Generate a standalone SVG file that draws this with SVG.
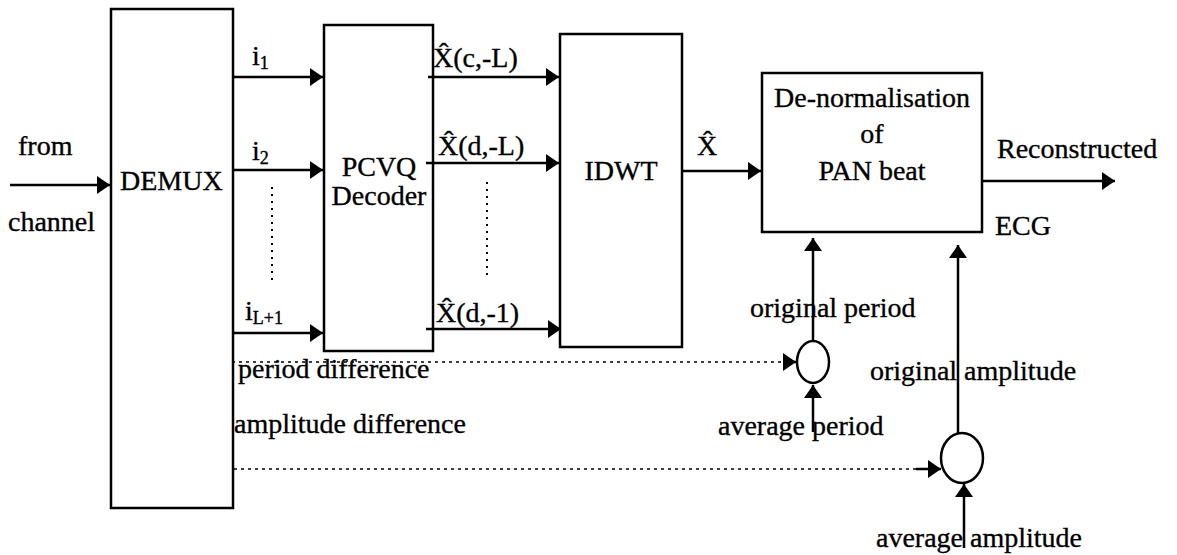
<svg xmlns="http://www.w3.org/2000/svg" width="1177" height="555" viewBox="0 0 1177 555">
<style>
.box{fill:none;stroke:#000;stroke-width:2.5}
.ln{fill:none;stroke:#000;stroke-width:2.5}
.dot{fill:none;stroke:#000;stroke-width:1.6;stroke-dasharray:3 4}
.vdot{fill:none;stroke:#000;stroke-width:2;stroke-dasharray:2 5}
text{font-family:'Liberation Serif','Times New Roman',serif;font-size:28px;fill:#000;stroke:#000;stroke-width:0.35}
.sub{font-size:18px}
.c{text-anchor:middle}
</style>
<defs>
<marker id="ah" viewBox="0 0 13 18" refX="13" refY="9" markerWidth="13" markerHeight="18" markerUnits="userSpaceOnUse" orient="auto">
<path d="M0,0 L13,9 L0,18 z" fill="#000"/>
</marker>
</defs>
<g id="demux"><rect class="box" x="111" y="9" width="122" height="499"/><text x="120" y="190">DEMUX</text></g>
<g id="pcvq"><rect class="box" x="324" y="25" width="109" height="326"/><text class="c" x="379" y="176">PCVQ</text><text class="c" x="379" y="205">Decoder</text></g>
<g id="idwt"><rect class="box" x="560" y="34" width="122" height="313"/><text class="c" x="621" y="180">IDWT</text></g>
<g id="denorm"><rect class="box" x="762" y="73" width="220" height="159"/><text class="c" x="872" y="107">De-normalisation</text><text class="c" x="872" y="143">of</text><text class="c" x="872" y="180">PAN beat</text></g>
<g id="sum1"><ellipse class="box" cx="813" cy="362" rx="16" ry="21"/></g>
<g id="sum2"><ellipse class="box" cx="962" cy="458" rx="21" ry="25"/></g>
<g id="connectors">
<line class="ln" x1="10" y1="185" x2="110" y2="185" marker-end="url(#ah)"/>
<line class="ln" x1="233" y1="77" x2="323" y2="77" marker-end="url(#ah)"/>
<line class="ln" x1="233" y1="170" x2="323" y2="170" marker-end="url(#ah)"/>
<line class="ln" x1="233" y1="333" x2="323" y2="333" marker-end="url(#ah)"/>
<line class="vdot" x1="272" y1="187" x2="272" y2="282"/>
<line class="ln" x1="428" y1="77" x2="559" y2="77" marker-end="url(#ah)"/>
<line class="ln" x1="426" y1="163" x2="559" y2="163" marker-end="url(#ah)"/>
<line class="ln" x1="426" y1="329" x2="561" y2="329" marker-end="url(#ah)"/>
<line class="vdot" x1="487" y1="182" x2="487" y2="280"/>
<line class="ln" x1="682" y1="171" x2="761" y2="171" marker-end="url(#ah)"/>
<line class="ln" x1="982" y1="181" x2="1115" y2="181" marker-end="url(#ah)"/>
<line class="ln" x1="813" y1="341" x2="813" y2="238" marker-end="url(#ah)"/>
<line class="ln" x1="958" y1="433" x2="958" y2="245" marker-end="url(#ah)"/>
<line class="ln" x1="813" y1="432" x2="813" y2="385" marker-end="url(#ah)"/>
<line class="ln" x1="964" y1="548" x2="964" y2="484" marker-end="url(#ah)"/>
<line class="dot" x1="232" y1="362" x2="785" y2="362"/>
<line class="ln" x1="783" y1="362" x2="796" y2="362" marker-end="url(#ah)"/>
<line class="dot" x1="234" y1="469" x2="917" y2="469"/>
<line class="ln" x1="916" y1="469" x2="941" y2="469" marker-end="url(#ah)"/>
</g>
<g id="labels">
<text x="18" y="155">from</text>
<text x="8" y="231">channel</text>
<text x="252" y="65">i<tspan class="sub" dy="4">1</tspan></text>
<text x="252" y="160">i<tspan class="sub" dy="4">2</tspan></text>
<text x="245" y="320">i<tspan class="sub" dy="4">L+1</tspan></text>
<text x="433" y="67">X&#x302;(c,-L)</text>
<text x="438" y="155">X&#x302;(d,-L)</text>
<text x="436" y="322">X&#x302;(d,-1)</text>
<text x="697" y="155">X&#x302;</text>
<text x="997" y="158">Reconstructed</text>
<text x="995" y="235">ECG</text>
<text x="750" y="317">original period</text>
<text x="870" y="380">original amplitude</text>
<text x="718" y="435">average period</text>
<text x="876" y="547">average amplitude</text>
<text x="238" y="378">period difference</text>
<text x="234" y="433">amplitude difference</text>
</g>
</svg>
